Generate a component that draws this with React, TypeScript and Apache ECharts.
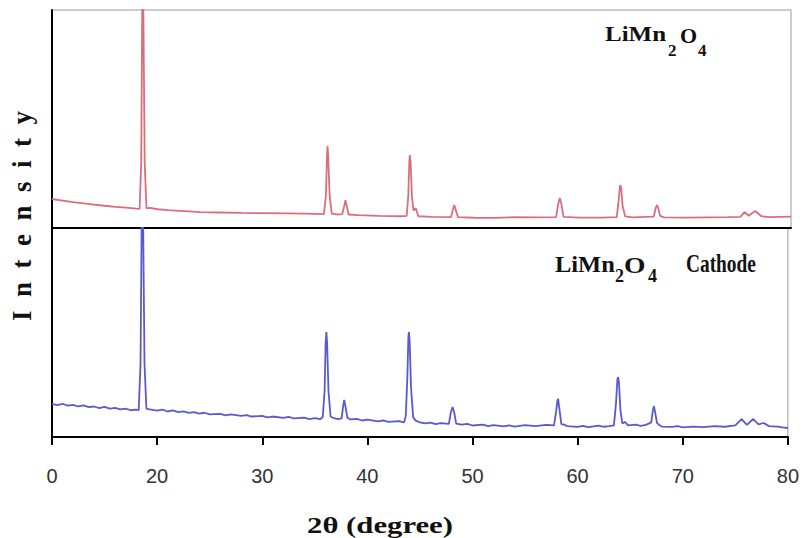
import React, { useEffect, useRef } from "react";
import * as echarts from "echarts";

// 2θ range and tick labels
const angleMin = 10;
const angleMax = 80;
const angleStep = 10;

// LiMn2O4 powder pattern [2θ, intensity a.u.]
const limn2o4Pattern: [number, number][] = [
  [10, 13.3], [11, 12.6], [12, 11.9], [13, 11.3], [14, 10.7], [15, 10.2], [16, 9.7], [17, 9.3], [18, 8.9],
  [18.3, 8.8], [18.45, 30], [18.55, 102], [18.65, 102], [18.78, 30], [18.95, 9.0], [19.3, 9.2], [20, 8.6], [21, 8.2],
  [22, 7.9], [23, 7.6], [24, 7.3], [26, 7.1], [28, 6.9], [30, 6.8], [32, 6.7], [34, 6.6], [35.75, 6.4],
  [35.95, 15], [36.05, 34], [36.1, 37.6], [36.15, 34], [36.3, 15], [36.5, 6.6], [37.0, 6.2], [37.5, 6.4],
  [37.7, 10.5], [37.8, 12.8], [37.9, 10.5], [38.1, 6.2],
  [39, 5.9], [41, 5.6], [43, 5.4], [43.6, 5.6], [43.75, 15], [43.85, 31], [43.9, 33.5], [43.97, 30], [44.1, 14],
  [44.25, 8], [44.45, 9.2], [44.7, 5.4], [46, 5.1], [47.8, 5.0], [48.0, 9], [48.1, 10.5], [48.2, 9], [48.45, 5.0],
  [50, 4.7], [52, 4.6],
  [54, 5.0], [56, 4.9], [57.75, 5.0], [57.95, 11], [58.1, 13.8], [58.25, 11], [58.45, 5.1], [60, 4.8], [62, 4.8],
  [63.5, 5.0], [63.68, 13], [63.8, 19.2], [63.85, 19.7], [63.92, 18], [64.05, 10], [64.3, 5.3], [65, 4.9],
  [67.0, 5.2], [67.2, 9.5], [67.3, 10.5], [67.4, 9.5], [67.6, 5.6],
  [68, 4.9], [70, 4.8], [72, 4.9], [74, 5.0], [75.2, 5.1], [75.6, 7.3], [76.0, 5.6], [76.6, 7.8],
  [77.2, 5.4], [78, 5.0], [80, 5.2],
];

// LiMn2O4 cathode pattern [2θ, intensity a.u.]
const cathodePattern: [number, number][] = [
  [10, 15.8], [10.5, 15.2], [11, 15.9], [11.5, 15.0], [12, 15.4], [12.5, 14.6], [13, 15.1], [13.5, 14.3],
  [14, 14.6], [14.5, 13.8], [15, 14.4], [15.5, 13.6], [16, 13.9], [16.5, 13.2], [17, 13.6], [17.5, 12.8],
  [18, 13.1], [18.25, 12.9], [18.42, 35], [18.53, 102], [18.67, 102], [18.8, 35], [18.98, 13.6], [19.3, 13.2], [20, 12.6],
  [20.5, 13.1], [21, 12.2], [21.5, 12.7], [22, 11.9], [22.5, 12.3], [23, 11.5], [23.5, 11.9], [24, 11.2],
  [24.5, 11.6], [25, 10.8], [26, 11.1], [26.5, 10.4], [27, 10.8], [28, 10.1], [28.5, 10.5], [29, 9.8],
  [30, 10.1], [30.5, 9.4], [31, 9.8], [32, 9.2], [32.5, 9.6], [33, 8.9], [34, 9.3], [34.5, 8.6], [35, 9.0],
  [35.5, 8.5], [35.75, 9.4], [35.93, 22], [36.03, 45], [36.1, 50.2], [36.17, 45], [36.3, 22], [36.5, 9.8],
  [36.8, 9.0], [37.2, 8.6], [37.55, 8.9], [37.7, 15], [37.8, 17.7], [37.9, 15], [38.1, 9.2], [38.4, 8.4],
  [39, 8.7], [39.5, 7.9], [40, 8.3], [41, 7.5],
  [41.5, 7.9], [42, 7.2], [43, 7.6], [43.5, 7.0], [43.65, 10], [43.8, 28], [43.9, 48], [43.95, 50.2],
  [44.02, 46], [44.15, 24], [44.35, 9.5], [44.6, 7.8], [45, 7.0], [45.5, 6.5], [46, 6.9], [46.5, 6.2],
  [47, 6.6], [47.75, 6.3], [47.95, 12], [48.1, 14.4], [48.25, 12], [48.45, 6.4], [49, 5.9], [49.5, 6.3],
  [50, 5.5], [51, 5.9], [51.5, 5.2], [52, 5.7],
  [53, 5.1], [53.5, 5.6], [54, 5.0], [55, 5.7], [56, 5.2], [57, 5.8], [57.75, 5.6], [57.95, 12],
  [58.08, 17.5], [58.15, 18.2], [58.25, 14], [58.45, 6.2], [58.7, 5.9], [59, 5.2], [60, 4.8], [60.5, 5.3],
  [61, 4.7], [62, 5.4], [62.5, 4.9], [63, 5.2], [63.45, 5.6], [63.65, 16], [63.78, 27.5], [63.85, 28.7],
  [63.93, 26], [64.07, 13], [64.25, 6.5], [64.5, 7.2], [64.8, 5.6], [65.5, 5.9], [66, 5.3], [66.5, 5.8],
  [67.0, 7.0], [67.15, 12.5], [67.25, 14.8], [67.35, 12.5], [67.55, 6.8], [67.8, 5.6],
  [68, 5.0], [69, 4.8], [69.5, 5.2], [70, 4.6], [71, 5.0], [72, 4.7], [73, 5.2], [74, 4.9], [75, 5.6],
  [75.6, 8.6], [76.1, 5.8], [76.7, 8.6], [77.2, 6.0], [77.7, 6.7], [78.2, 5.2], [79, 5.0], [79.5, 4.6],
  [80, 4.3],
];

const serif = "'Liberation Serif', 'Times New Roman', serif";

// one piece of a label: text, left x, baseline y, font size, horizontal stretch
function piece(text: string, x: number, baseline: number, size: number, sx = 1, sy = 1) {
  return {
    type: "text",
    x,
    y: baseline - 0.34 * size * sy,
    scaleX: sx,
    scaleY: sy,
    style: {
      text,
      fontFamily: serif,
      fontWeight: "bold",
      fontSize: size,
      fill: "#111",
      align: "left",
      verticalAlign: "middle",
    },
  };
}

export default function App() {
  const ref = useRef<HTMLDivElement>(null);
  useEffect(() => {
    if (!ref.current) return;
    const chart = echarts.init(ref.current, null, { renderer: "svg" });
    const hiddenAxis = {
      axisTick: { show: false },
      axisLabel: { show: false },
      splitLine: { show: false },
    };
    chart.setOption({
      animation: false,
      backgroundColor: "#ffffff",
      grid: [
        { left: 52, right: 11, top: 10, height: 218, show: true, borderColor: "#9a9a9a", borderWidth: 1 },
        { left: 52, right: 11, top: 228, height: 209, show: true, borderColor: "#9a9a9a", borderWidth: 1 },
      ],
      xAxis: [
        {
          gridIndex: 0, type: "value", min: angleMin, max: angleMax, interval: angleStep,
          axisLine: { show: true, lineStyle: { color: "#000", width: 2 } },
          ...hiddenAxis,
        },
        {
          gridIndex: 1, type: "value", min: angleMin, max: angleMax, interval: angleStep,
          axisLine: { show: true, lineStyle: { color: "#000", width: 2 } },
          axisTick: { show: true, inside: false, length: 8, lineStyle: { color: "#000", width: 2 } },
          axisLabel: {
            show: true, margin: 29, color: "#333", fontSize: 20,
            fontFamily: "'Liberation Sans', Arial, sans-serif",
            formatter: (v: number) => (v === angleMin ? "0" : String(v)),
          },
          splitLine: { show: false },
        },
      ],
      yAxis: [
        { gridIndex: 0, type: "value", min: 0, max: 100, axisLine: { show: true, lineStyle: { color: "#000", width: 2 } }, ...hiddenAxis },
        { gridIndex: 1, type: "value", min: 0, max: 100, axisLine: { show: true, lineStyle: { color: "#000", width: 2 } }, ...hiddenAxis },
      ],
      series: [
        {
          type: "line", xAxisIndex: 0, yAxisIndex: 0, data: limn2o4Pattern, showSymbol: false, clip: true,
          lineStyle: { color: "#dc6e7c", width: 1.8 }, z: 1,
        },
        {
          type: "line", xAxisIndex: 1, yAxisIndex: 1, data: cathodePattern, showSymbol: false, clip: true,
          lineStyle: { color: "#5a5ad0", width: 1.8 }, z: 1,
        },
      ],
      graphic: [
        {
          type: "text", x: 22, y: 216, rotation: Math.PI / 2,
          style: {
            text: "I\u2002n\u2002t\u2002e\u2002n\u2002s\u2002i\u2002t\u2002y",
            fontFamily: serif, fontWeight: "bold", fontSize: 27, fill: "#111",
            align: "center", verticalAlign: "middle",
          },
        },
        {
          type: "text", x: 380, y: 525, scaleX: 1.28,
          style: {
            text: "2θ (degree)", fontFamily: serif, fontWeight: "bold", fontSize: 24, fill: "#111",
            align: "center", verticalAlign: "middle",
          },
        },
        // top label: LiMn2O4
        piece("LiMn", 605, 41, 20, 1.25),
        piece("2", 668, 56, 17),
        piece("O", 680, 43, 20, 1.1),
        piece("4", 698, 56, 17),
        // bottom label: LiMn2O4  Cathode
        piece("LiMn", 555, 272, 24, 1.02),
        piece("2", 615, 282, 18),
        piece("O", 624, 273, 24, 1.15),
        piece("4", 648, 282, 18),
        piece("Cathode", 686, 272, 22, 0.88, 1.1),
      ],
    });
    return () => chart.dispose();
  }, []);
  return <div ref={ref} style={{ position: "absolute", left: 0, top: 0, width: 802, height: 538 }} />;
}
